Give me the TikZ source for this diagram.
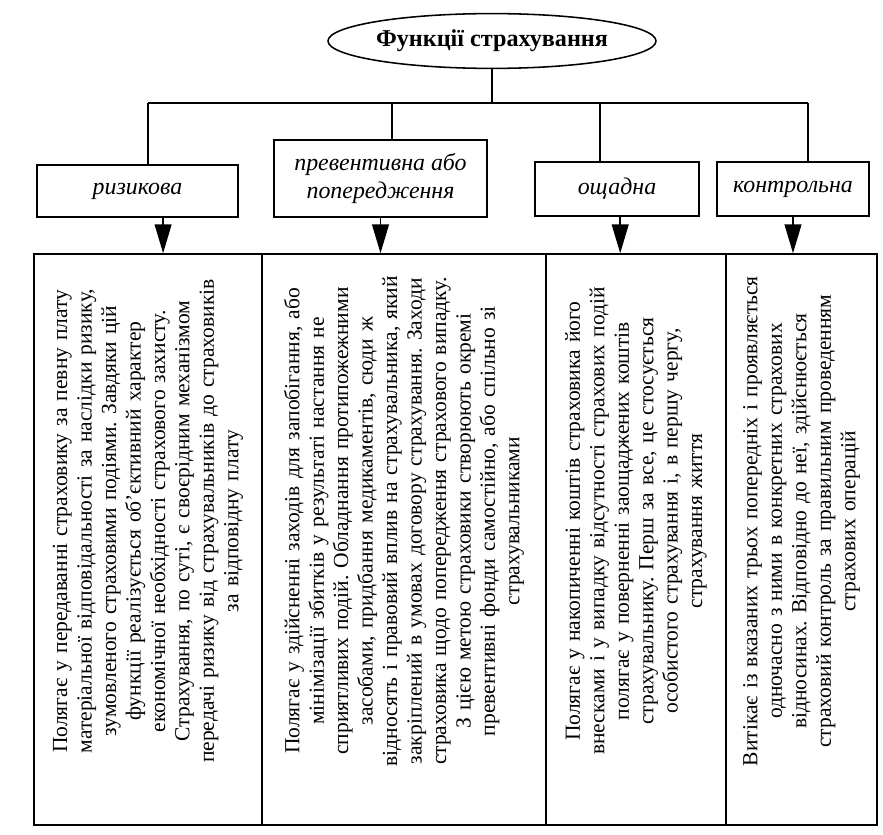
\documentclass[tikz,border=0pt]{standalone}
\usepackage{fontspec}
\setmainfont{Liberation Serif}
\usetikzlibrary{shapes.geometric}
\usetikzlibrary{arrows.meta}
\usetikzlibrary{positioning}
\frenchspacing

\begin{document}
\begin{tikzpicture}[%
  line width=1.1pt,
  head/.style={ellipse, draw, minimum width=7.7cm, minimum height=1.37cm, inner sep=0pt,
    font=\fontsize{17.2}{19}\selectfont\bfseries},
  func/.style={rectangle, draw, inner sep=0pt, align=center,
    font=\fontsize{17}{19.5}\selectfont\itshape},
  descbox/.style={rectangle, draw, minimum height=14.275cm, inner sep=0pt},
  desctext/.style={text width=13cm, align=center, inner sep=0pt, rotate=90,
    font=\fontsize{15.3}{17.4}\selectfont},
  down arrow/.style={-{Triangle[length=0.72cm,width=0.42cm]}}
  ]
  \useasboundingbox (0,0) rectangle (22.075,-20.875);

  % Top of the tree
  \node[head] (fn) at (12.3,-1.025) {Функції страхування};

  % The four functions
  \node[func, minimum width=5.025cm, minimum height=1.3cm] (risk) at (3.4375,-4.775) {ризикова};
  \node[func, minimum width=5.325cm, minimum height=1.925cm] (prev) at (9.5125,-4.4625) {превентивна або\\попередження};
  \node[func, minimum width=4.1cm, minimum height=1.35cm] (save) at (15.425,-4.725) {ощадна};
  \node[func, minimum width=3.8cm, minimum height=1.35cm] (ctrl) at (19.825,-4.725) {контрольна};

  % Description boxes
  \node[descbox, minimum width=5.7cm] (d-risk) at (3.7,-13.4875) {};
  \node[descbox, minimum width=7.1cm] (d-prev) at (10.1,-13.4875) {};
  \node[descbox, minimum width=4.5cm] (d-save) at (15.9,-13.4875) {};
  \node[descbox, minimum width=3.775cm] (d-ctrl) at (20.0375,-13.4875) {};

  \node[desctext] (t-risk) at ([yshift=4.6mm]d-risk.center) {%
    Полягає у передаванні страховику за певну плату\\
    матеріальної відповідальності за наслідки ризику,\\
    зумовленого страховими подіями. Завдяки цій\\
    функції реалізується об'єктивний характер\\
    економічної необхідності страхового захисту.\\
    Страхування, по суті, є своєрідним механізмом\\
    передачі ризику від страхувальників до страховиків\\
    за відповідну плату};
  \node[desctext] (t-prev) at ([yshift=4.6mm]d-prev.center) {%
    Полягає у здійсненні заходів для запобігання, або\\
    мінімізації збитків у результаті настання не\\
    сприятливих подій. Обладнання протипожежними\\
    засобами, придбання медикаментів, сюди ж\\
    відносять і правовий вплив на страхувальника, який\\
    закріплений в умовах договору страхування. Заходи\\
    страховика щодо попередження страхового випадку.\\
    З цією метою страховики створюють окремі\\
    превентивні фонди самостійно, або спільно зі\\
    страхувальниками};
  \node[desctext] (t-save) at ([yshift=4.6mm]d-save.center) {%
    Полягає у накопиченні коштів страховика його\\
    внесками і у випадку відсутності страхових подій\\
    полягає у поверненні заощаджених коштів\\
    страхувальнику. Перш за все, це стосується\\
    особистого страхування і, в першу чергу,\\
    страхування життя};
  \node[desctext] (t-ctrl) at ([yshift=4.6mm]d-ctrl.center) {%
    Витікає із вказаних трьох попередніх і проявляється\\
    одночасно з ними в конкретних страхових\\
    відносинах. Відповідно до неї, здійснюється\\
    страховий контроль за правильним проведенням\\
    страхових операцій};

  % Branches from the top node
  \coordinate (bus-risk) at (3.7,-2.575);
  \coordinate (bus-prev) at (9.8,-2.575);
  \coordinate (bus-save) at (15,-2.575);
  \coordinate (bus-ctrl) at (20.2,-2.575);
  \draw (fn.south) -- (fn.south |- bus-risk);
  \draw (bus-risk) -- (bus-ctrl);
  \foreach \f in {risk,prev,save,ctrl}
    \draw (bus-\f) -- (bus-\f |- \f.north);

  % Arrows down to the descriptions
  \coordinate (a-risk) at ([xshift=6.4mm]risk.south);
  \coordinate (a-prev) at (prev.south);
  \coordinate (a-save) at ([xshift=0.8mm]save.south);
  \coordinate (a-ctrl) at (ctrl.south);
  \foreach \f in {risk,prev,save,ctrl}
    \draw[down arrow] (a-\f) -- (a-\f |- d-\f.north);
\end{tikzpicture}
\end{document}
